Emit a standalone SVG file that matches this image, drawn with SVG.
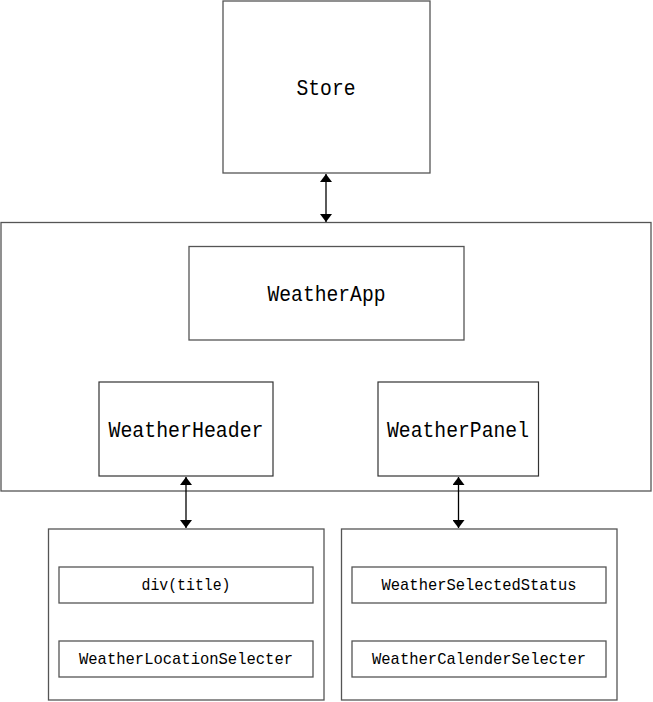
<svg xmlns="http://www.w3.org/2000/svg" width="653" height="702" viewBox="0 0 653 702">
<defs>
<marker id="ah" viewBox="0 0 10 10" refX="10" refY="5" markerWidth="8" markerHeight="12" markerUnits="userSpaceOnUse" orient="auto-start-reverse" preserveAspectRatio="none">
<path d="M0,0 L10,5 L0,10 Z" fill="#000"/>
</marker>
<style>
.box{fill:#fff;stroke:#555;stroke-width:1.3}
.ibox{fill:#fff;stroke:#333;stroke-width:1.2}
.big{font-family:"Liberation Mono","DejaVu Sans Mono",monospace;font-size:22px;fill:#000;text-anchor:middle}
.small{font-family:"Liberation Mono","DejaVu Sans Mono",monospace;font-size:17px;fill:#000;text-anchor:middle}
.conn{stroke:#000;stroke-width:1.3;fill:none;marker-start:url(#ah);marker-end:url(#ah)}
</style>
</defs>
<rect width="653" height="702" fill="#fff"/>
<g id="store">
<rect class="box" x="223" y="1" width="207" height="172"/>
<text class="big" x="326" y="95" textLength="59" lengthAdjust="spacingAndGlyphs">Store</text>
</g>
<g id="container">
<rect class="box" x="1" y="222.5" width="650" height="268.5"/>
</g>
<g id="weatherapp">
<rect class="box" x="189" y="246.5" width="275" height="93.5"/>
<text class="big" x="326.5" y="301" textLength="118" lengthAdjust="spacingAndGlyphs">WeatherApp</text>
</g>
<g id="weatherheader">
<rect class="ibox" x="99" y="382" width="174" height="94"/>
<text class="big" x="186" y="437" textLength="155" lengthAdjust="spacingAndGlyphs">WeatherHeader</text>
</g>
<g id="weatherpanel">
<rect class="ibox" x="378" y="382" width="160.5" height="94"/>
<text class="big" x="458" y="437" textLength="142" lengthAdjust="spacingAndGlyphs">WeatherPanel</text>
</g>
<g id="headergroup">
<rect class="box" x="48.5" y="529" width="275.5" height="171"/>
</g>
<g id="divtitle">
<rect class="box" x="59" y="567" width="254" height="36"/>
<text class="small" x="186" y="590" textLength="89" lengthAdjust="spacingAndGlyphs">div(title)</text>
</g>
<g id="locationselecter">
<rect class="box" x="59" y="641" width="254" height="36"/>
<text class="small" x="186" y="664" textLength="214" lengthAdjust="spacingAndGlyphs">WeatherLocationSelecter</text>
</g>
<g id="panelgroup">
<rect class="box" x="341.5" y="529" width="275.5" height="171"/>
</g>
<g id="selectedstatus">
<rect class="box" x="352" y="567" width="254" height="36"/>
<text class="small" x="479" y="590" textLength="195" lengthAdjust="spacingAndGlyphs">WeatherSelectedStatus</text>
</g>
<g id="calenderselecter">
<rect class="box" x="352" y="641" width="254" height="36"/>
<text class="small" x="479" y="664" textLength="214" lengthAdjust="spacingAndGlyphs">WeatherCalenderSelecter</text>
</g>
<g id="connectors">
<line class="conn" x1="326" y1="174" x2="326" y2="222"/>
<line class="conn" x1="186" y1="477" x2="186" y2="528"/>
<line class="conn" x1="458.5" y1="477" x2="458.5" y2="528"/>
</g>
</svg>
